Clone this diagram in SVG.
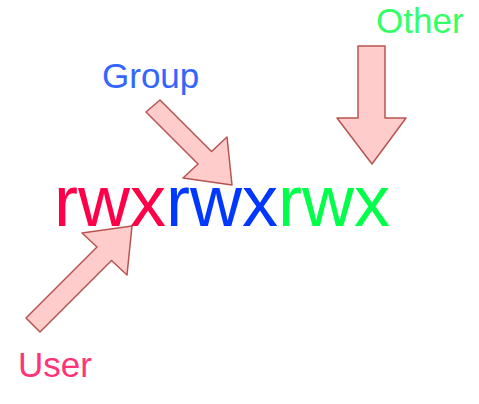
<svg xmlns="http://www.w3.org/2000/svg" width="479" height="404" viewBox="0 0 479 404">
<style>
text{font-family:"Liberation Sans",Arial,sans-serif}
.lbl{font-size:35px}
.perm{font-size:72px}
.arrow{fill:#ffcccc;stroke:#b85450;stroke-width:1.5;stroke-linejoin:round}
</style>
<rect width="479" height="404" fill="#ffffff"/>
<g id="connectors">
<polygon class="arrow" points="26,318 97,247 82,233 132,226 127,275 111.5,260.5 40,332"/>
<polygon class="arrow" points="146,112 198,164 183,178 232,185 227,137 211.5,151.5 160,100"/>
<polygon class="arrow" points="358,46 385,46 385,118 406,118 372,164 337,118 358,118"/>
</g>
<g id="perms">
<text class="perm" x="54" y="226"><tspan fill="#ff0048">rwx</tspan><tspan fill="#0038ff">rwx</tspan><tspan fill="#00ff48">rwx</tspan></text>
</g>
<g id="group-label">
<text class="lbl" x="102" y="88" fill="#3366ff">Group</text>
</g>
<g id="other-label">
<text class="lbl" x="376" y="33" fill="#33ff66">Other</text>
</g>
<g id="user-label">
<text class="lbl" x="18" y="377" fill="#ff3377">User</text>
</g>
</svg>
